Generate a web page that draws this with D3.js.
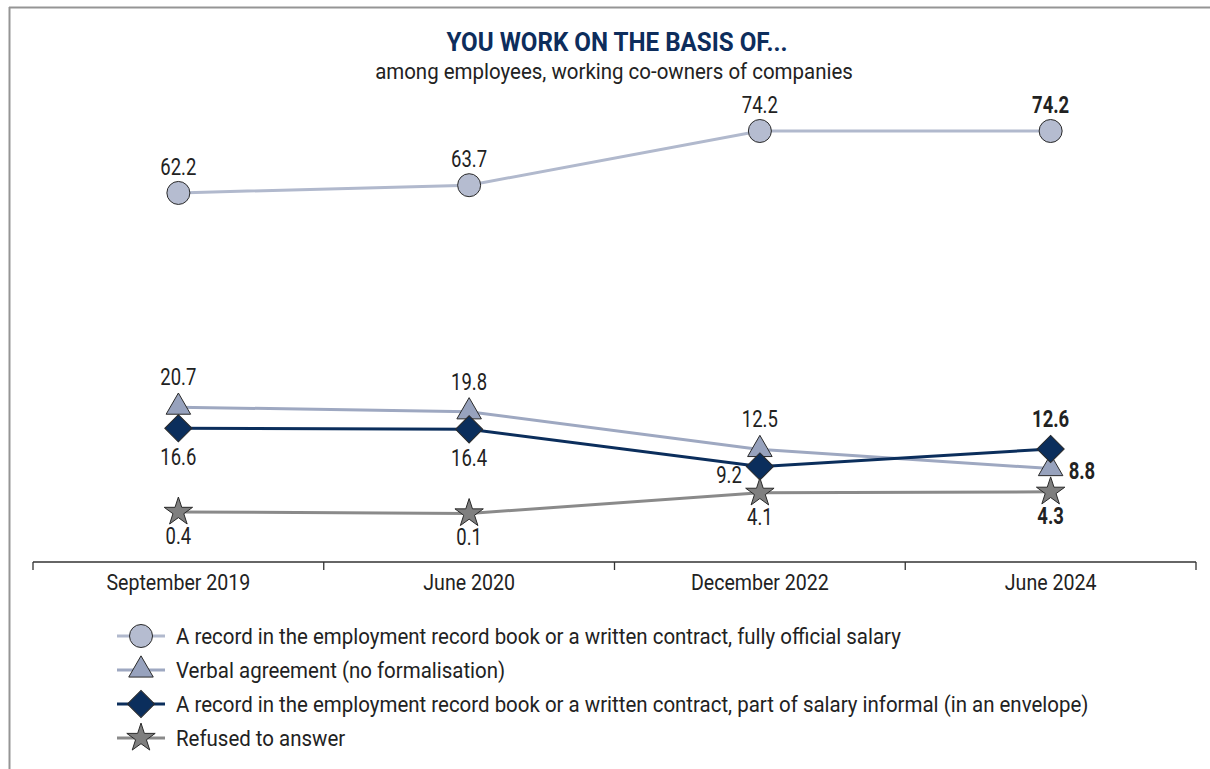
<!DOCTYPE html>
<html>
<head>
<meta charset="utf-8">
<script src="https://cdn.jsdelivr.net/npm/d3@7"></script>
<style>
  body { margin: 0; background: #fff; }
  svg { display: block; font-family: Roboto, "Noto Sans", sans-serif; }
</style>
</head>
<body>
<div id="chart"></div>
<script>
// survey waves
var periods = ["September 2019", "June 2020", "December 2022", "June 2024"];

var seriesNames = [
    "A record in the employment record book or a written contract, fully official salary",
    "Verbal agreement (no formalisation)",
    "A record in the employment record book or a written contract, part of salary informal (in an envelope)",
    "Refused to answer"
];

var officialVals = [62.2, 63.7, 74.2, 74.2];
var verbalVals = [20.7, 19.8, 12.5, 8.8];
var envelopeVals = [16.6, 16.4, 9.2, 12.6];
var refusedVals = [0.4, 0.1, 4.1, 4.3];

var width = 1210;
var height = 769;

var svg = d3.select("#chart")
    .append("svg")
    .attr("width", width)
    .attr("height", height);

// the original face is a condensed one, so narrow the text horizontally
function condense(k) {
    return function(sel) {
        sel.each(function() {
            var w = this.getComputedTextLength();
            d3.select(this).attr("textLength", w * k).attr("lengthAdjust", "spacingAndGlyphs");
        });
    };
}

// frame lines top / left
svg.append("line").attr("x1", 9).attr("x2", width).attr("y1", 7.5).attr("y2", 7.5)
    .attr("stroke", "#959595").attr("stroke-width", 2);
svg.append("line").attr("x1", 9.5).attr("x2", 9.5).attr("y1", 7).attr("y2", height)
    .attr("stroke", "#959595").attr("stroke-width", 2);

// titles
svg.append("text")
    .attr("x", 617).attr("y", 51)
    .attr("text-anchor", "middle")
    .attr("font-size", 26).attr("font-weight", "bold")
    .attr("fill", "#0d2d5c")
    .text("YOU WORK ON THE BASIS OF...")
    .call(condense(0.93));
svg.append("text")
    .attr("x", 614).attr("y", 79)
    .attr("text-anchor", "middle")
    .attr("font-size", 22)
    .attr("fill", "#222")
    .text("among employees, working co-owners of companies")
    .call(condense(0.93));

var x = d3.scaleBand().domain(periods).range([33, 1196]);
var y = d3.scaleLinear().domain([0, 74.2]).range([514, 131]);

// axis
var axisY = 562;
var xAxis = svg.append("g").attr("transform", "translate(0," + axisY + ")");
xAxis.append("line").attr("x1", x.range()[0]).attr("x2", x.range()[1])
    .attr("stroke", "#333").attr("stroke-width", 1.3);
var edges = periods.map(function(p) { return x(p); }).concat([x.range()[1]]);
xAxis.selectAll(".tk").data(edges).enter().append("line")
    .attr("x1", function(d) { return d; }).attr("x2", function(d) { return d; })
    .attr("y1", 0).attr("y2", 8)
    .attr("stroke", "#333").attr("stroke-width", 1.3);
xAxis.selectAll(".lbl").data(periods).enter().append("text")
    .attr("x", function(d) { return x(d) + x.bandwidth() / 2; })
    .attr("y", 28)
    .attr("text-anchor", "middle")
    .attr("font-size", 22)
    .attr("fill", "#222")
    .text(function(d) { return d; })
    .call(condense(0.89));

var series = [
    { name: seriesNames[0], values: officialVals, line: "#b1b9cd", fill: "#b5bcd0", shape: "circle",
      pos: ["above", "above", "above", "above"] },
    { name: seriesNames[1], values: verbalVals, line: "#9ea8c1", fill: "#97a2bd", shape: "triangle",
      pos: ["above", "above", "above", "right"] },
    { name: seriesNames[2], values: envelopeVals, line: "#0b2e5c", fill: "#0b2e5c", shape: "diamond",
      pos: ["below", "below", "left", "above"] },
    { name: seriesNames[3], values: refusedVals, line: "#8a8a8a", fill: "#7f7f7f", shape: "star",
      pos: ["below", "below", "below", "below"] }
];

function symbolPath(shape) {
    if (shape === "circle") return d3.symbol().type(d3.symbolCircle).size(Math.PI * 11.5 * 11.5)();
    if (shape === "triangle") return d3.symbol().type(d3.symbolTriangle).size(260)();
    if (shape === "diamond") return d3.symbol().type(d3.symbolSquare).size(370)();
    return d3.symbol().type(d3.symbolStar).size(250)();
}

var line = d3.line()
    .x(function(d, i) { return x(periods[i]) + x.bandwidth() / 2; })
    .y(function(d) { return y(d); });

// lines first so markers sit on top
series.forEach(function(s) {
    svg.append("path")
        .attr("d", line(s.values))
        .attr("fill", "none")
        .attr("stroke", s.line)
        .attr("stroke-width", 3);
});

series.forEach(function(s) {
    var g = svg.append("g");
    g.selectAll("path").data(s.values).enter().append("path")
        .attr("d", symbolPath(s.shape))
        .attr("transform", function(d, i) {
            var t = "translate(" + (x(periods[i]) + x.bandwidth() / 2) + "," + y(d) + ")";
            return s.shape === "diamond" ? t + " rotate(45)" : t;
        })
        .attr("fill", s.fill)
        .attr("stroke", "#2a2a2a")
        .attr("stroke-width", 1);

    g.selectAll("text").data(s.values).enter().append("text")
        .attr("x", function(d, i) {
            var cx = x(periods[i]) + x.bandwidth() / 2;
            if (s.pos[i] === "right") return cx + 18;
            if (s.pos[i] === "left") return cx - 18;
            return cx;
        })
        .attr("y", function(d, i) {
            var cy = y(d);
            var p = s.pos[i];
            if (p === "above") return cy - (s.shape === "circle" ? 18 : 22);
            if (p === "below") return cy + (s.shape === "star" ? 32 : 37);
            if (p === "left") return cy + 16;
            return cy + 10;
        })
        .attr("text-anchor", function(d, i) {
            if (s.pos[i] === "right") return "start";
            if (s.pos[i] === "left") return "end";
            return "middle";
        })
        .attr("font-size", 24)
        .attr("font-weight", function(d, i) { return i === periods.length - 1 ? "bold" : "normal"; })
        .attr("fill", "#222")
        .text(function(d) { return d.toFixed(1); })
        .call(condense(0.77));
});

// legend
var legend = svg.append("g").attr("transform", "translate(117,636)");
var rows = legend.selectAll("g").data(series).enter().append("g")
    .attr("transform", function(d, i) { return "translate(0," + (i * 34) + ")"; });
rows.append("line").attr("x1", 0).attr("x2", 48).attr("y1", 0).attr("y2", 0)
    .attr("stroke", function(d) { return d.line; }).attr("stroke-width", 3);
rows.append("path")
    .attr("d", function(d) { return symbolPath(d.shape); })
    .attr("transform", function(d) { return "translate(24,0)" + (d.shape === "diamond" ? " rotate(45)" : ""); })
    .attr("fill", function(d) { return d.fill; })
    .attr("stroke", "#2a2a2a").attr("stroke-width", 1);
rows.append("text")
    .attr("x", 59).attr("y", 8)
    .attr("font-size", 22)
    .attr("fill", "#222")
    .text(function(d) { return d.name; })
    .call(condense(0.93));
</script>
</body>
</html>
